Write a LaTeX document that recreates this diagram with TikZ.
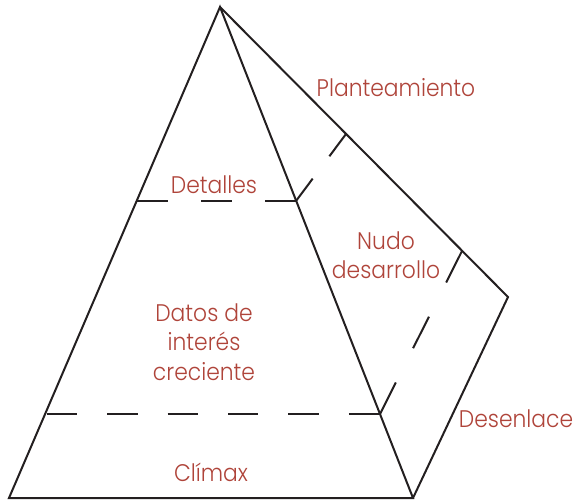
\documentclass[tikz,border=0pt]{standalone}
\usepackage{fontspec}
\setmainfont{Poppins}[UprightFont=* Light,FakeStretch=0.91]
\definecolor{lbl}{RGB}{175,68,58}
\definecolor{ink}{RGB}{35,31,32}
\begin{document}
\begin{tikzpicture}[x=1pt,y=-1pt,
  edge/.style={draw=ink,line width=2pt,line join=miter},
  dsh/.style={draw=ink,line width=2pt},
  lab/.style={text=lbl,font=\fontsize{24}{29.5}\selectfont,inner sep=0pt,align=center}]
\useasboundingbox (0,0) rectangle (577,500);
\coordinate (A) at (220,7);
\coordinate (BL) at (9,498);
\coordinate (BR) at (413,498);
\coordinate (BK) at (508,297);
\coordinate (P1L) at (137,201);
\coordinate (P1R) at (296,201);
\coordinate (P2L) at (47,414);
\coordinate (P2R) at (380,414);
\coordinate (Q1) at (346,134);
\coordinate (Q2) at (462,251);
% solid edges
\draw[edge] (BL) -- (A) -- (BR) -- cycle;
\draw[edge] (A) -- (BK) -- (BR);
% dashed section lines
\draw[dsh,dash pattern=on 31pt off 33pt] (P1L) -- (P1R);
\draw[dsh,dash pattern=on 30.18pt off 30.18pt] (P2L) -- (P2R);
\draw[dsh,dash pattern=on 27.9pt off 27.9pt] (P1R) -- (Q1);
\draw[dsh,dash pattern=on 35.3pt off 38.3pt] (P2R) -- (Q2);
% labels
\node[lab,anchor=base] (plan) at (396,96) {Planteamiento};
\node[lab,anchor=base] (det) at (214,193) {Detalles};
\node[lab] (nudo) at (386,255) {Nudo\\desarrollo};
\node[lab] (datos) at (204,342) {Datos de\\interés\\creciente};
\node[lab,anchor=base] (clim) at (211,481) {Clímax};
\node[lab,anchor=base] (desen) at (516,427) {Desenlace};
\end{tikzpicture}
\end{document}
